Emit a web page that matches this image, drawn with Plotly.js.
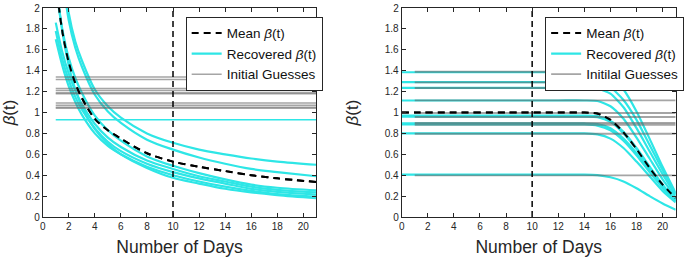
<!DOCTYPE html>
<html>
<head>
<meta charset="utf-8">
<script src="https://cdn.plot.ly/plotly-3.0.1.min.js"></script>
<style>html,body{margin:0;padding:0;background:#fff;}#chart{width:698px;height:260px;}</style>
</head>
<body>
<div id="chart"></div>
<script>
// ---------- Left panel data ----------
const daysL = [1, 1.5, 2, 2.5, 3, 4, 5, 6, 8, 10, 12, 14, 16, 18, 21];
const meanL = [2.25, 1.78, 1.48, 1.28, 1.14, 0.94, 0.83, 0.75, 0.61, 0.53, 0.48, 0.44, 0.40, 0.37, 0.335];
const recL1 = [3.2, 2.45, 1.95, 1.68, 1.50, 1.22, 1.06, 0.95, 0.80, 0.71, 0.645, 0.60, 0.56, 0.53, 0.50];
const recL2 = [3.1, 2.35, 1.88, 1.62, 1.44, 1.17, 1.01, 0.90, 0.74, 0.645, 0.57, 0.51, 0.46, 0.43, 0.39];
const recL3 = [2.2, 1.80, 1.52, 1.33, 1.19, 0.97, 0.83, 0.73, 0.58, 0.49, 0.42, 0.36, 0.31, 0.28, 0.255];
const recL4 = [1.86, 1.58, 1.37, 1.21, 1.08, 0.89, 0.76, 0.67, 0.54, 0.46, 0.39, 0.34, 0.29, 0.26, 0.235];
const recL5 = [1.78, 1.51, 1.31, 1.15, 1.03, 0.85, 0.72, 0.63, 0.51, 0.43, 0.37, 0.32, 0.27, 0.24, 0.215];
const recL6 = [1.70, 1.45, 1.25, 1.10, 0.98, 0.80, 0.68, 0.60, 0.48, 0.40, 0.34, 0.29, 0.25, 0.22, 0.195];
const recL7 = [2.3, 1.78, 1.45, 1.22, 1.06, 0.84, 0.70, 0.60, 0.47, 0.375, 0.32, 0.27, 0.235, 0.21, 0.18];
const flatDaysL = [1, 21];
const recLflat = [0.93, 0.93];
const guessLevelsL = [1.34, 1.315, 1.23, 1.21, 1.19, 1.18, 1.09, 1.07, 1.05, 1.04];
const guessDaysL = [1, 21];

// ---------- Right panel data ----------
const daysR = [0, 1, 4, 8, 12, 14, 15, 16, 17, 18, 19, 20, 21];
const meanR = [1, 1, 1, 1, 1, 1, 0.99, 0.93, 0.81, 0.65, 0.47, 0.31, 0.18];
const recR1 = [1.385, 1.385, 1.385, 1.385, 1.385, 1.385, 1.385, 1.34, 1.22, 1.01, 0.75, 0.48, 0.23];
const recR2 = [1.29, 1.29, 1.29, 1.29, 1.29, 1.29, 1.285, 1.24, 1.12, 0.93, 0.69, 0.45, 0.22];
const recR3 = [1.235, 1.235, 1.235, 1.235, 1.235, 1.235, 1.23, 1.18, 1.05, 0.85, 0.63, 0.41, 0.21];
const recR4 = [1.115, 1.115, 1.115, 1.115, 1.115, 1.115, 1.11, 1.06, 0.94, 0.76, 0.56, 0.36, 0.19];
const recR5 = [0.97, 0.97, 0.97, 0.97, 0.97, 0.97, 0.965, 0.92, 0.815, 0.66, 0.485, 0.31, 0.165];
const recR6 = [0.96, 0.96, 0.96, 0.96, 0.96, 0.96, 0.955, 0.91, 0.80, 0.65, 0.47, 0.30, 0.16];
const recR7 = [0.895, 0.895, 0.895, 0.895, 0.895, 0.895, 0.89, 0.85, 0.75, 0.61, 0.45, 0.29, 0.155];
const recR8 = [0.885, 0.885, 0.885, 0.885, 0.885, 0.885, 0.875, 0.83, 0.73, 0.59, 0.43, 0.28, 0.15];
const recR9 = [0.80, 0.80, 0.80, 0.80, 0.80, 0.80, 0.79, 0.75, 0.66, 0.53, 0.39, 0.25, 0.14];
const recR10 = [0.405, 0.405, 0.405, 0.405, 0.405, 0.405, 0.40, 0.38, 0.34, 0.275, 0.20, 0.13, 0.07];
const guessLevelsR = [1.39, 1.288, 1.234, 1.116, 0.995, 0.957, 0.90, 0.883, 0.797, 0.398];
const guessDaysR = [1, 21];

// ---------- Shared ----------
const vlineX = [10, 10];
const vlineY = [0, 2];
const xTicks = [0, 2, 4, 6, 8, 10, 12, 14, 16, 18, 20];
const yTicks = [0, 0.2, 0.4, 0.6, 0.8, 1, 1.2, 1.4, 1.6, 1.8, 2];
const meanName = 'Mean <i>β</i>(t)';
const recName = 'Recovered <i>β</i>(t)';
const guessNameL = 'Initial Guesses';
const guessNameR = 'Initilal Guesses';

const CYAN = '#2ee6e6';
const GRAY = 'rgba(100,100,100,0.58)';
const AX = '#262626';

function panel(xa, ya, leg, days, meanArr, recs, sm, flats, guessDays, guessLevels, guessW, guessName) {
  const tr = [];
  const meanLine = {color: '#000', width: 2, dash: '7px,5px', shape: 'spline', smoothing: sm};
  tr.push({x: days, y: meanArr, xaxis: xa, yaxis: ya, mode: 'lines', type: 'scatter', line: meanLine,
    name: meanName, legend: leg, showlegend: true, hoverinfo: 'skip'});
  recs.forEach((r, i) => {
    tr.push({x: days, y: r, xaxis: xa, yaxis: ya, mode: 'lines', type: 'scatter',
      line: {color: CYAN, width: 2.2, shape: 'spline', smoothing: sm},
      name: recName, legend: leg, showlegend: i === 0, hoverinfo: 'skip'});
  });
  flats.forEach(f => {
    tr.push({x: f.x, y: f.y, xaxis: xa, yaxis: ya, mode: 'lines', type: 'scatter',
      line: {color: CYAN, width: 1.6}, showlegend: false, legend: leg, hoverinfo: 'skip'});
  });
  guessLevels.forEach((g, i) => {
    tr.push({x: guessDays, y: [g, g], xaxis: xa, yaxis: ya, mode: 'lines', type: 'scatter',
      line: {color: GRAY, width: guessW}, name: guessName, legend: leg,
      showlegend: i === 0, hoverinfo: 'skip'});
  });
  tr.push({x: days, y: meanArr, xaxis: xa, yaxis: ya, mode: 'lines', type: 'scatter', line: meanLine,
    showlegend: false, legend: leg, hoverinfo: 'skip'});
  tr.push({x: vlineX, y: vlineY, xaxis: xa, yaxis: ya, mode: 'lines', type: 'scatter',
    line: {color: '#000', width: 1.5, dash: '6px,4px'}, showlegend: false, legend: leg, hoverinfo: 'skip'});
  return tr;
}

const data = [].concat(
  panel('x', 'y', 'legend', daysL, meanL, [recL1, recL2, recL3, recL4, recL5, recL6, recL7], 0.9,
        [{x: flatDaysL, y: recLflat}], guessDaysL, guessLevelsL, 1.5, guessNameL),
  panel('x2', 'y2', 'legend2', daysR, meanR, [recR1, recR2, recR3, recR4, recR5, recR6, recR7, recR8, recR9, recR10], 0.6,
        [], guessDaysR, guessLevelsR, 1.9, guessNameR)
);

const FONT = 'Liberation Sans, Arial, Helvetica, sans-serif';
function xaxis(domain, anchor) {
  return {domain: domain, anchor: anchor, range: [0, 21], tickvals: xTicks, ticks: 'inside', ticklen: 4,
    tickcolor: AX, showline: true, linecolor: AX, linewidth: 1, mirror: 'ticks', showgrid: false, zeroline: false,
    tickfont: {size: 10, color: AX, family: FONT},
    title: {text: 'Number of Days', font: {size: 17.5, color: AX, family: FONT}, standoff: 9}};
}
function yaxis(anchor) {
  return {domain: [0, 1], anchor: anchor, range: [0, 2], tickvals: yTicks, ticks: 'inside', ticklen: 4,
    tickcolor: AX, showline: true, linecolor: AX, linewidth: 1, mirror: 'ticks', showgrid: false, zeroline: false,
    tickfont: {size: 10, color: AX, family: FONT},
    title: {text: '<i>β</i>(t)', font: {size: 17, color: AX, family: FONT}}};
}
function legend(x) {
  return {x: x, y: 0.958, xanchor: 'left', yanchor: 'top', bgcolor: '#fff', bordercolor: AX, borderwidth: 1,
    font: {size: 13.5, color: '#111', family: FONT}, itemwidth: 30, tracegroupgap: 0, traceorder: 'normal'};
}

const layout = {
  width: 698, height: 260,
  margin: {l: 0, r: 0, t: 8, b: 43},
  paper_bgcolor: '#fff', plot_bgcolor: '#fff',
  showlegend: true,
  xaxis: xaxis([0.0612, 0.4532], 'y'),
  yaxis: yaxis('x'),
  xaxis2: xaxis([0.5755, 0.968], 'y2'),
  yaxis2: yaxis('x2'),
  legend: legend(0.266),
  legend2: legend(0.781)
};

Plotly.newPlot('chart', data, layout, {staticPlot: true, displayModeBar: false});
</script>
</body>
</html>
